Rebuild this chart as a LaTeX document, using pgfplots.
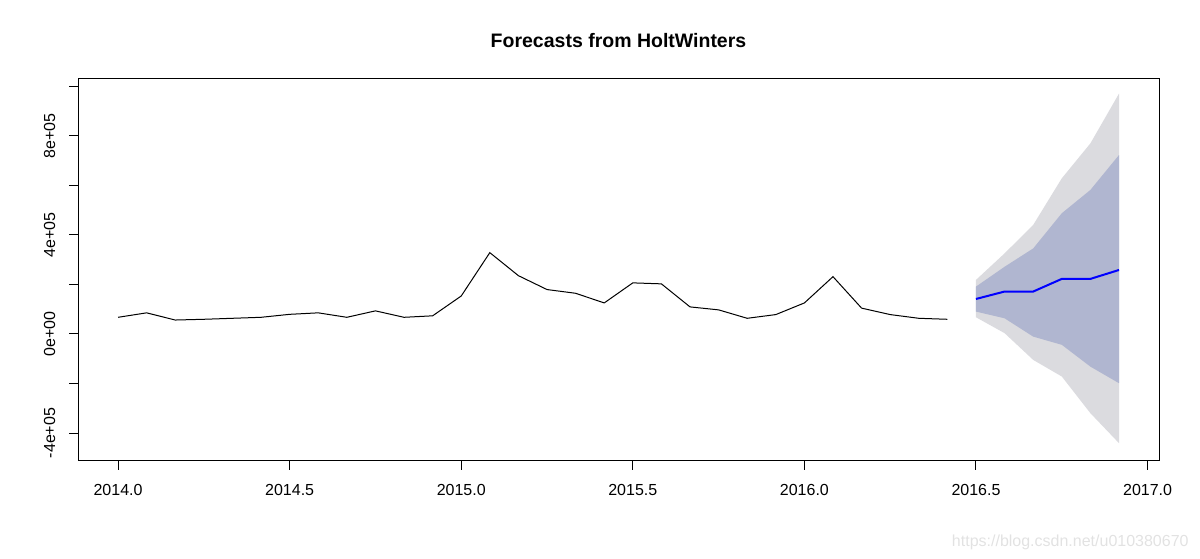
\documentclass[border=0pt]{standalone}
\usepackage{fontspec}
\setmainfont{Liberation Sans}
\usepackage{pgfplots}
\pgfplotsset{compat=1.18}
\definecolor{lo}{RGB}{219,219,223}
\definecolor{hi}{RGB}{176,182,208}
\definecolor{wm}{RGB}{226,226,226}
\begin{document}
\begin{tikzpicture}
\path[use as bounding box] (0,0) rectangle (600pt,279pt);
\begin{axis}[at={(39pt,48.75pt)}, anchor=south west, scale only axis,
  width=540.5pt, height=191.25pt,
  xmin=2013.8833, xmax=2017.0333, ymin=-5.11e5, ymax=10.329e5,
  axis line style={line width=0.5pt},
  every tick/.style={line width=0.5pt, black},
  tick align=outside, major tick length=4.5pt,
  xtick pos=bottom, ytick pos=left,
  scaled y ticks=false, scaled x ticks=false,
  xtick={2014,2014.5,2015,2015.5,2016,2016.5,2017},
  xticklabels={2014.0,2014.5,2015.0,2015.5,2016.0,2016.5,2017.0},
  ytick={-400000,-200000,0,200000,400000,600000,800000,1000000},
  yticklabels={{-4e+05},{},{0e+00},{},{4e+05},{},{8e+05},{}},
  tick label style={font=\fontsize{8}{9.6}\selectfont},
  xticklabel style={anchor=base, inner sep=0pt},
  xticklabel shift=13pt,
  yticklabel style={rotate=90, anchor=base, inner sep=0pt},
  yticklabel shift=7pt,
  title={\textbf{Forecasts from HoltWinters}},
  title style={font=\fontsize{9.75}{11.7}\selectfont, at={(0.5,1)}, anchor=base, inner sep=0pt, yshift=9.5pt},
]
\addplot[draw=none, fill=lo] coordinates {
(2016.5,218000) (2016.5833,325000) (2016.6667,440000) (2016.75,628000) (2016.8333,769000) (2016.9167,970000)
(2016.9167,-441000) (2016.8333,-320000) (2016.75,-172000) (2016.6667,-105000) (2016.5833,3000) (2016.5,67000)} -- cycle;
\addplot[draw=none, fill=hi] coordinates {
(2016.5,191000) (2016.5833,271000) (2016.6667,345000) (2016.75,487000) (2016.8333,581000) (2016.9167,722000)
(2016.9167,-199000) (2016.8333,-132000) (2016.75,-44000) (2016.6667,-11000) (2016.5833,63000) (2016.5,90000)} -- cycle;
\addplot[black, line width=0.5pt, mark=none] coordinates {
(2014.0000,67000) (2014.0833,85000) (2014.1667,56000) (2014.2500,59000) (2014.3333,63000) (2014.4167,67000)
(2014.5000,79000) (2014.5833,85000) (2014.6667,67000) (2014.7500,93000) (2014.8333,67000) (2014.9167,73000)
(2015.0000,153000) (2015.0833,328000) (2015.1667,235000) (2015.2500,179000) (2015.3333,164000) (2015.4167,125000)
(2015.5000,206000) (2015.5833,202000) (2015.6667,109000) (2015.7500,97000) (2015.8333,63000) (2015.9167,78000)
(2016.0000,125000) (2016.0833,231000) (2016.1667,104000) (2016.2500,78000) (2016.3333,63000) (2016.4167,59000)};
\addplot[color={rgb,255:red,0;green,0;blue,255}, line width=1pt, mark=none] coordinates {
(2016.5000,141000) (2016.5833,171000) (2016.6667,171000) (2016.7500,222000) (2016.8333,222000) (2016.9167,258000)};
\end{axis}
\node[anchor=base east, inner sep=0pt, text=wm, font=\fontsize{8}{9.6}\selectfont] at (594.5pt,6pt) {https://blog.csdn.net/u010380670};
\end{tikzpicture}
\end{document}
